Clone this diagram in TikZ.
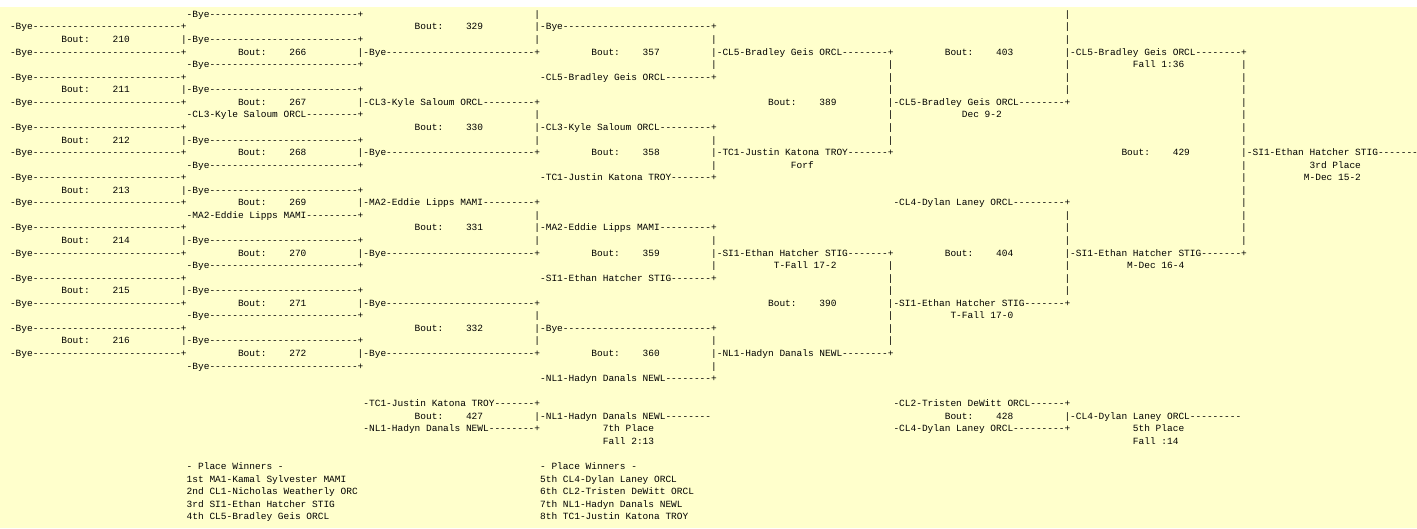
\documentclass[tikz,border=0pt]{standalone}
\usepackage{fontspec}
\setmonofont{Liberation Mono}
\ExplSyntaxOn
\cs_new:Npn \rdash #1 { \prg_replicate:nn {#1} {-} }
\ExplSyntaxOff
\definecolor{bg}{HTML}{FFFFCC}
\tikzset{txt/.style={anchor=base west, inner sep=0pt, outer sep=0pt,
  font=\ttfamily\fontsize{9.5}{9.5}\selectfont, text=black}}
% text at character column #1, row #2
\newcommand\tx[3]{\node[txt] (c#1r#2) at ({10+5.7*#1},{17.4+12.56*#2}) {#3};}
% entry: text, number of dashes, tail
\newcommand\en[5]{\tx{#1}{#2}{#3\rdash{#4}#5}}
% bout label in a column starting at #1, row #2, bout #3
\newcommand\bout[3]{%
  \node[txt] (bt#3) at ({10+5.7*(#1+9)},{17.4+12.56*#2}) {Bout:};
  \node[txt] (bn#3) at ({10+5.7*(#1+18)},{17.4+12.56*#2}) {#3};}
\newcommand\bars[2]{\foreach \r in {#2} {\tx{#1}{\r}{|}}}
\begin{document}
\begin{tikzpicture}[x=1pt,y=-1pt]
\useasboundingbox (0,0) rectangle (1417,528);
\fill[white] (0,0) rectangle (1417,528);
\fill[bg] (0,7.4) rectangle (1417,528);
% ---- round A
\foreach \q in {1,3,...,27} {\en{0}{\q}{-Bye}{26}{+}}
\bout{0}{2}{210}\bout{0}{6}{211}\bout{0}{10}{212}\bout{0}{14}{213}
\bout{0}{18}{214}\bout{0}{22}{215}\bout{0}{26}{216}
% ---- round B
\foreach \q in {2,6,...,26} {\en{30}{\q}{|-Bye}{26}{+}}
\en{31}{0}{-Bye}{26}{+}
\en{31}{4}{-Bye}{26}{+}
\en{31}{8}{-CL3-Kyle Saloum ORCL}{9}{+}
\en{31}{12}{-Bye}{26}{+}
\en{31}{16}{-MA2-Eddie Lipps MAMI}{9}{+}
\en{31}{20}{-Bye}{26}{+}
\en{31}{24}{-Bye}{26}{+}
\en{31}{28}{-Bye}{26}{+}
\bout{31}{3}{266}\bout{31}{7}{267}\bout{31}{11}{268}\bout{31}{15}{269}
\bout{31}{19}{270}\bout{31}{23}{271}\bout{31}{27}{272}
% ---- round C
\en{61}{3}{|-Bye}{26}{+}
\en{61}{7}{|-CL3-Kyle Saloum ORCL}{9}{+}
\en{61}{11}{|-Bye}{26}{+}
\en{61}{15}{|-MA2-Eddie Lipps MAMI}{9}{+}
\en{61}{19}{|-Bye}{26}{+}
\en{61}{23}{|-Bye}{26}{+}
\en{61}{27}{|-Bye}{26}{+}
\bars{92}{0,2,8,10,16,18,24,26}
\bout{62}{1}{329}\bout{62}{9}{330}\bout{62}{17}{331}\bout{62}{25}{332}
% ---- round D
\en{92}{1}{|-Bye}{26}{+}
\en{93}{5}{-CL5-Bradley Geis ORCL}{8}{+}
\en{92}{9}{|-CL3-Kyle Saloum ORCL}{9}{+}
\en{93}{13}{-TC1-Justin Katona TROY}{7}{+}
\en{92}{17}{|-MA2-Eddie Lipps MAMI}{9}{+}
\en{93}{21}{-SI1-Ethan Hatcher STIG}{7}{+}
\en{92}{25}{|-Bye}{26}{+}
\en{93}{29}{-NL1-Hadyn Danals NEWL}{8}{+}
\bars{123}{2,4,10,12,18,20,26,28}
\bout{93}{3}{357}\bout{93}{11}{358}\bout{93}{19}{359}\bout{93}{27}{360}
% ---- round E
\en{123}{3}{|-CL5-Bradley Geis ORCL}{8}{+}
\en{123}{11}{|-TC1-Justin Katona TROY}{7}{+}
\tx{137}{12}{Forf}
\en{123}{19}{|-SI1-Ethan Hatcher STIG}{7}{+}
\tx{134}{20}{T-Fall 17-2}
\en{123}{27}{|-NL1-Hadyn Danals NEWL}{8}{+}
\bars{154}{4,5,6,8,9,10,20,21,22,24,25,26}
\bout{124}{7}{389}\bout{124}{23}{390}
% ---- round F
\en{154}{7}{|-CL5-Bradley Geis ORCL}{8}{+}
\tx{167}{8}{Dec 9-2}
\en{155}{15}{-CL4-Dylan Laney ORCL}{9}{+}
\en{154}{23}{|-SI1-Ethan Hatcher STIG}{7}{+}
\tx{165}{24}{T-Fall 17-0}
\bars{185}{0,1,2,4,5,6,16,17,18,20,21,22}
\bout{155}{3}{403}\bout{155}{19}{404}
% ---- round G
\en{185}{3}{|-CL5-Bradley Geis ORCL}{8}{+}
\tx{197}{4}{Fall 1:36}
\en{185}{19}{|-SI1-Ethan Hatcher STIG}{7}{+}
\tx{196}{20}{M-Dec 16-4}
\bars{216}{4,5,6,7,8,9,10,12,13,14,15,16,17,18}
\bout{186}{11}{429}
% ---- round H
\en{216}{11}{|-SI1-Ethan Hatcher STIG}{7}{}
\tx{228}{12}{3rd Place}
\tx{227}{13}{M-Dec 15-2}
% ---- 7th place
\en{62}{31}{-TC1-Justin Katona TROY}{7}{+}
\bout{62}{32}{427}
\en{92}{32}{|-NL1-Hadyn Danals NEWL}{8}{}
\en{62}{33}{-NL1-Hadyn Danals NEWL}{8}{+}
\tx{104}{33}{7th Place}
\tx{104}{34}{Fall 2:13}
% ---- 5th place
\en{155}{31}{-CL2-Tristen DeWitt ORCL}{6}{+}
\bout{155}{32}{428}
\en{185}{32}{|-CL4-Dylan Laney ORCL}{9}{}
\en{155}{33}{-CL4-Dylan Laney ORCL}{9}{+}
\tx{197}{33}{5th Place}
\tx{197}{34}{Fall :14}
% ---- place winners
\tx{31}{36}{- Place Winners -}
\tx{31}{37}{1st MA1-Kamal Sylvester MAMI}
\tx{31}{38}{2nd CL1-Nicholas Weatherly ORC}
\tx{31}{39}{3rd SI1-Ethan Hatcher STIG}
\tx{31}{40}{4th CL5-Bradley Geis ORCL}
\tx{93}{36}{- Place Winners -}
\tx{93}{37}{5th CL4-Dylan Laney ORCL}
\tx{93}{38}{6th CL2-Tristen DeWitt ORCL}
\tx{93}{39}{7th NL1-Hadyn Danals NEWL}
\tx{93}{40}{8th TC1-Justin Katona TROY}
\end{tikzpicture}
\end{document}
